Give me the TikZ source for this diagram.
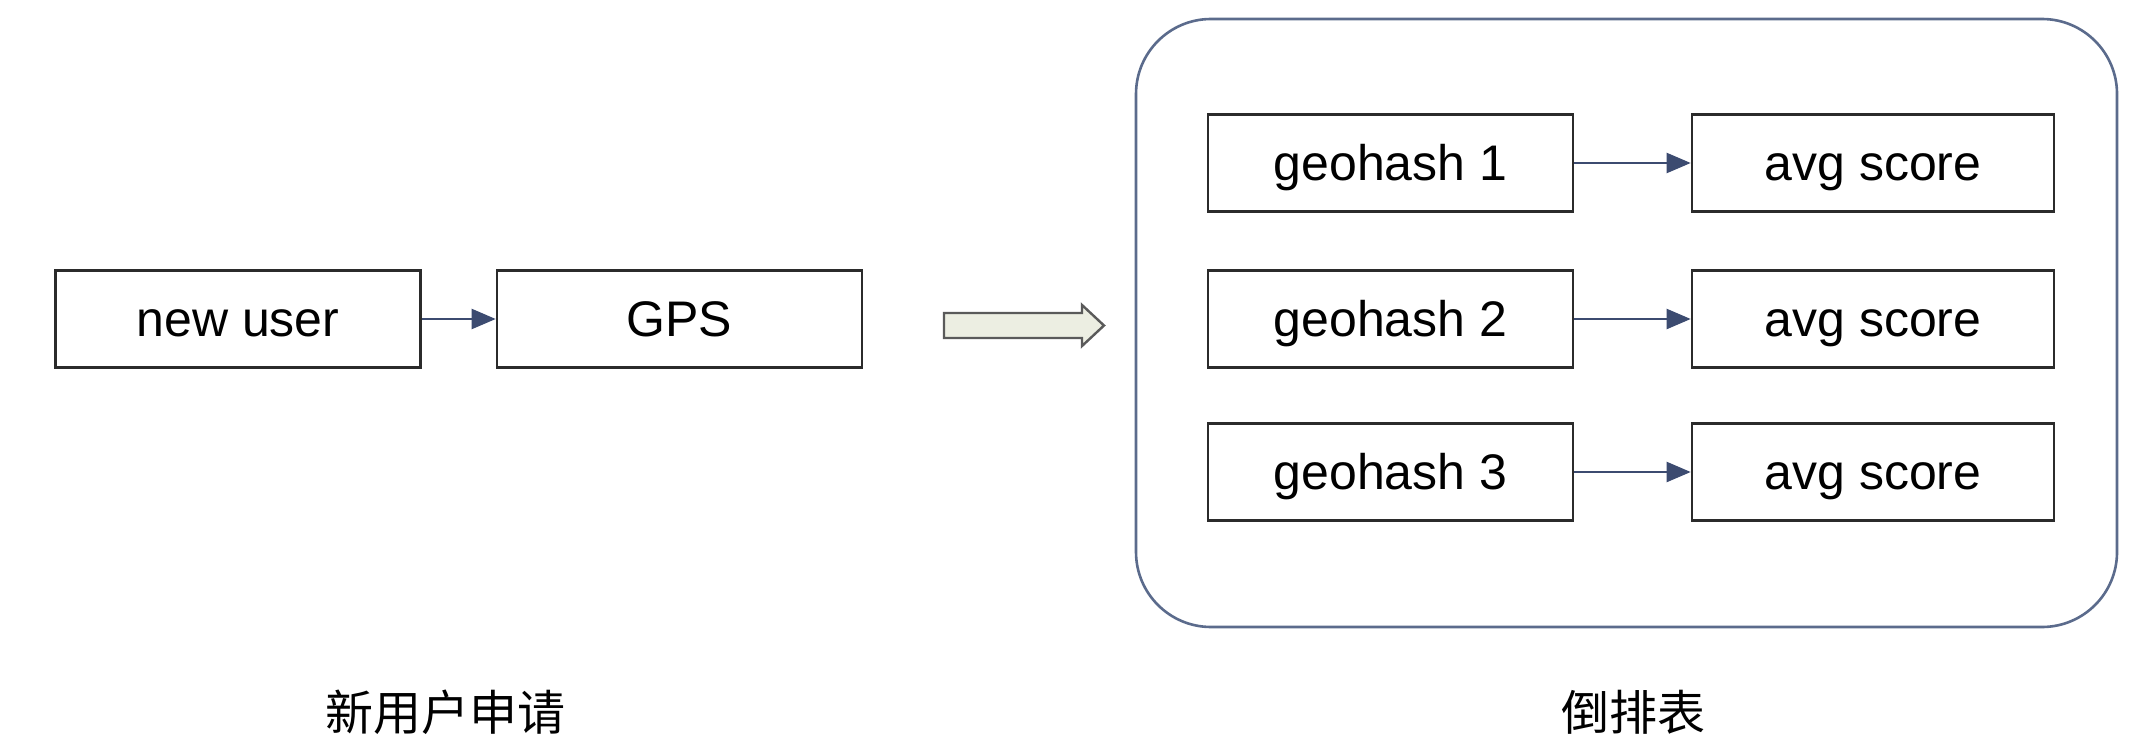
\documentclass[tikz,border=0pt]{standalone}
\usepackage{fontspec}
\setmainfont{Liberation Sans}
\newfontfamily\cjk{Noto Sans CJK SC}
\usetikzlibrary{arrows.meta}
\definecolor{boxline}{HTML}{2B2B2B}
\definecolor{frameline}{HTML}{5B6B8C}
\definecolor{arrowline}{HTML}{3C4B70}
\definecolor{blockfill}{HTML}{ECEEE2}
\definecolor{blockline}{HTML}{5A5A5A}
\begin{document}
\begin{tikzpicture}[x=1pt,y=-1pt,
  boxnode/.style={draw=boxline,line width=2.6pt,minimum width=365pt,minimum height=97pt,inner sep=0pt,text height=35pt,text depth=0pt,font=\fontsize{50}{60}\selectfont},
  conn/.style={draw=arrowline,line width=2.2pt,-{Triangle[length=24pt,width=20pt]}},
  labelnode/.style={font=\cjk\fontsize{48}{58}\selectfont,inner sep=0pt}
]
\useasboundingbox (0,0) rectangle (2146,746);
% frame
\node[draw=frameline,line width=2.6pt,rounded corners=75pt,minimum width=981pt,minimum height=608pt,inner sep=0pt] (tbl) at (1626.5,323) {};
% left part
\node[boxnode] (nu) at (238,319) {new user};
\node[boxnode] (gps) at (679.5,319) {GPS};
\draw[conn] (nu) -- (gps);
% block arrow
\draw[fill=blockfill,draw=blockline,line width=2.4pt,line join=miter]
  (944,313) -- (1082,313) -- (1082,305) -- (1104,325.5) -- (1082,346) -- (1082,338) -- (944,338) -- cycle;
% right part
\node[boxnode] (g1) at (1390.5,163) {geohash 1};
\node[boxnode] (g2) at (1390.5,319) {geohash 2};
\node[boxnode] (g3) at (1390.5,472) {geohash 3};
\node[boxnode,minimum width=362pt] (s1) at (1873,163) {avg score};
\node[boxnode,minimum width=362pt] (s2) at (1873,319) {avg score};
\node[boxnode,minimum width=362pt] (s3) at (1873,472) {avg score};
\draw[conn] (g1) -- (s1);
\draw[conn] (g2) -- (s2);
\draw[conn] (g3) -- (s3);
% labels
\node[labelnode] (lab1) at (445,712) {新用户申请};
\node[labelnode] (lab2) at (1633,712) {倒排表};
\end{tikzpicture}
\end{document}
